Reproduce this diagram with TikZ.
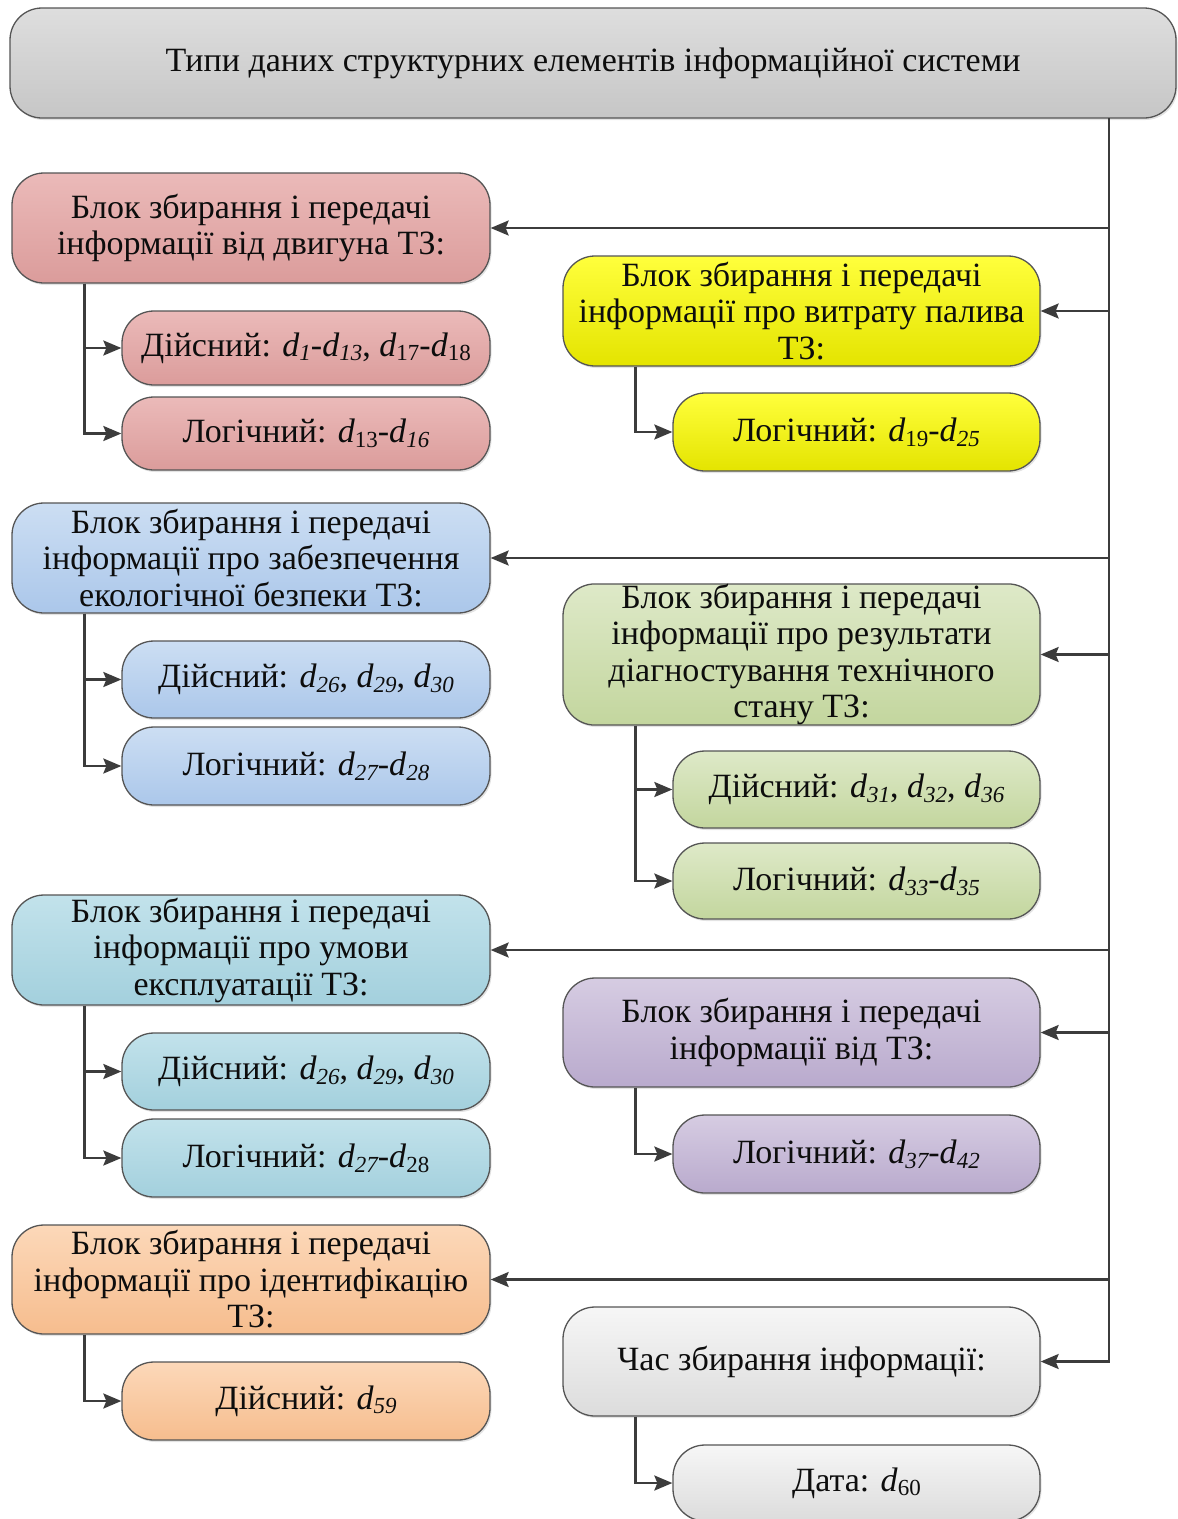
\documentclass[tikz,border=0pt]{standalone}
\usepackage{fontspec}
\setmainfont{Liberation Serif}
\usetikzlibrary{arrows.meta,shadows}

% fills: light top, darker bottom
\definecolor{hdT}{HTML}{DEDEDE}\definecolor{hdB}{HTML}{C6C6C6}
\definecolor{rdT}{HTML}{EBBAB9}\definecolor{rdB}{HTML}{DB9C9B}
\definecolor{ylT}{HTML}{FFFF3C}\definecolor{ylB}{HTML}{E4E400}
\definecolor{blT}{HTML}{CCDEF3}\definecolor{blB}{HTML}{ABC7EA}
\definecolor{grT}{HTML}{DEE9C8}\definecolor{grB}{HTML}{C3D69E}
\definecolor{tlT}{HTML}{C2E2EB}\definecolor{tlB}{HTML}{A3D0DD}
\definecolor{ppT}{HTML}{D6CCE2}\definecolor{ppB}{HTML}{B9AACD}
\definecolor{orT}{HTML}{FCD8B9}\definecolor{orB}{HTML}{F6BD8E}
\definecolor{gyT}{HTML}{F6F6F6}\definecolor{gyB}{HTML}{DCDCDC}
\definecolor{boxline}{HTML}{555555}
\definecolor{wire}{HTML}{3C3C3C}

% variable d with italic or upright index
\newcommand\di[1]{\textit{d}\raisebox{-0.3ex}{\fontsize{23}{23}\selectfont\itshape #1}}
\newcommand\du[1]{\textit{d}\raisebox{-0.3ex}{\fontsize{23}{23}\selectfont #1}}

\tikzset{
  box/.style={draw=boxline, line width=1.3pt, rounded corners=32pt,
    align=center, inner sep=0pt, text=black!95,
    font=\fontsize{34}{36.5}\selectfont,
    drop shadow={shadow xshift=1.5pt, shadow yshift=-2pt, opacity=0.22}},
  mainbox/.style={box, minimum width=478pt, minimum height=110pt},
  subbox/.style={box, minimum width=368pt, minimum height=77pt},
  fillpair/.style n args={2}{top color=#1, bottom color=#2},
  wireline/.style={draw=wire, line width=2.3pt},
  arr/.style={wireline, -{Stealth[length=18pt,width=15pt,inset=3pt]}}
}

\begin{document}
\begin{tikzpicture}[x=1pt, y=-1pt]
\useasboundingbox (0,0) rectangle (1178,1519);

% heading
\node[box, fillpair={hdT}{hdB}, minimum width=1166pt, minimum height=110pt]
  (head) at (593,63) {Типи даних структурних елементів інформаційної системи};

% left column
\node[mainbox, fillpair={rdT}{rdB}] (eng) at (251,228)
  {Блок збирання і передачі\\інформації від двигуна ТЗ:};
\node[subbox, fillpair={rdT}{rdB}, minimum height=74pt] (engR) at (306,348)
  {Дійсний: \di{1}-\di{13}, \du{17}-\du{18}};
\node[subbox, fillpair={rdT}{rdB}, minimum height=73pt] (engL) at (306,433.5)
  {Логічний: \du{13}-\di{16}};

\node[mainbox, fillpair={blT}{blB}] (eco) at (251,558)
  {Блок збирання і передачі\\інформації про забезпечення\\екологічної безпеки ТЗ:};
\node[subbox, fillpair={blT}{blB}] (ecoR) at (306,679.5)
  {Дійсний: \di{26}, \di{29}, \di{30}};
\node[subbox, fillpair={blT}{blB}, minimum height=78pt] (ecoL) at (306,766)
  {Логічний: \di{27}-\di{28}};

\node[mainbox, fillpair={tlT}{tlB}] (use) at (251,950)
  {Блок збирання і передачі\\інформації про умови\\експлуатації ТЗ:};
\node[subbox, fillpair={tlT}{tlB}] (useR) at (306,1071.5)
  {Дійсний: \di{26}, \di{29}, \di{30}};
\node[subbox, fillpair={tlT}{tlB}, minimum height=78pt] (useL) at (306,1158)
  {Логічний: \di{27}-\du{28}};

\node[mainbox, fillpair={orT}{orB}, minimum height=109pt] (ident) at (251,1279.5)
  {Блок збирання і передачі\\інформації про ідентифікацію\\ТЗ:};
\node[subbox, fillpair={orT}{orB}, minimum height=78pt] (identR) at (306,1401)
  {Дійсний: \di{59}};

% right column
\node[mainbox, fillpair={ylT}{ylB}, minimum width=477pt] (fuel) at (801.5,311)
  {Блок збирання і передачі\\інформації про витрату палива\\ТЗ:};
\node[subbox, fillpair={ylT}{ylB}, minimum width=367pt, minimum height=78pt] (fuelL) at (856.5,432)
  {Логічний: \du{19}-\di{25}};

\node[mainbox, fillpair={grT}{grB}, minimum width=477pt, minimum height=137pt] (diag) at (801.5,654.5)
  {Блок збирання і передачі\\інформації про результати\\діагностування технічного\\стану ТЗ:};
\node[subbox, fillpair={grT}{grB}, minimum width=367pt] (diagR) at (856.5,789.5)
  {Дійсний: \di{31}, \di{32}, \di{36}};
\node[subbox, fillpair={grT}{grB}, minimum width=367pt, minimum height=76pt] (diagL) at (856.5,881)
  {Логічний: \di{33}-\di{35}};

\node[mainbox, fillpair={ppT}{ppB}, minimum width=477pt, minimum height=109pt] (veh) at (801.5,1032.5)
  {Блок збирання і передачі\\інформації від ТЗ:};
\node[subbox, fillpair={ppT}{ppB}, minimum width=367pt, minimum height=78pt] (vehL) at (856.5,1154)
  {Логічний: \di{37}-\di{42}};

\node[mainbox, fillpair={gyT}{gyB}, minimum width=477pt, minimum height=109pt] (time) at (801.5,1361.5)
  {Час збирання інформації:};
\node[subbox, fillpair={gyT}{gyB}, minimum width=367pt, minimum height=76pt] (timeD) at (856.5,1483)
  {Дата: \du{60}};

% trunk from the heading down to the time block
\coordinate (trunk) at (1109,118);
\draw[arr] (trunk) |- (time.east);
\foreach \blk in {eng, fuel, eco, diag, use, veh, ident}
  \draw[arr] (trunk |- \blk.east) -- (\blk.east);

% left-column feeders
\foreach \blk/\kids in {eng/{engR,engL}, eco/{ecoR,ecoL}, use/{useR,useL}, ident/{identR}}
  \foreach \k in \kids
    \draw[arr] ([xshift=73pt]\blk.south west) |- (\k.west);

% right-column feeders
\foreach \blk/\kids in {fuel/{fuelL}, diag/{diagR,diagL}, veh/{vehL}, time/{timeD}}
  \foreach \k in \kids
    \draw[arr] ([xshift=73pt]\blk.south west) |- (\k.west);
\end{tikzpicture}
\end{document}
